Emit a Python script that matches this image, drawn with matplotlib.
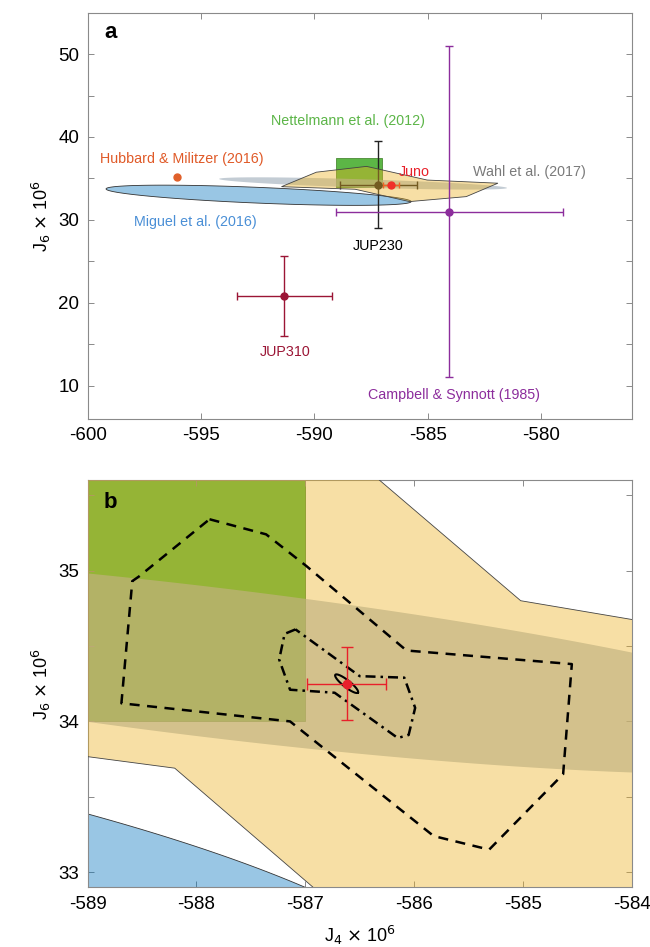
import numpy as np
import matplotlib.pyplot as plt
from matplotlib.patches import Polygon, Rectangle

plt.rcParams['font.family'] = ['Liberation Sans', 'DejaVu Sans']
plt.rcParams['axes.unicode_minus'] = False

# J4 x 1e6, J6 x 1e6 (value, error)
juno = (-586.62, 34.25, 0.36, 0.24)
jup230 = (-587.17, 34.25, 1.70, 5.27)
jup310 = (-591.32, 20.8, 2.1, 4.85)
campbell = (-584.04, 31.0, 5.0, 20.0)
hubbard = (-596.08, 35.14)

# Nettelmann et al. (2012) box
nett_j4 = [-589.05, -587.0]
nett_j6 = [34.0, 37.5]

# model envelope polygon
env_j4 = [-591.45, -589.91, -587.7, -585.02, -581.9, -583.3, -585.8, -588.2]
env_j6 = [34.0, 35.75, 36.45, 34.8, 34.42, 32.8, 32.2, 33.69]

# Wahl et al. (2017) ellipse: centre, half width, tilt, half height
wahl_c = (-587.85, 34.39)
wahl_a, wahl_tilt, wahl_h = 6.35, -0.546, 0.5

# Miguel et al. (2016) ellipse
mig_c = (-592.46, 32.965)
mig_a, mig_tilt, mig_h = 6.73, -0.765, 0.95

# contours (panel b)
dash_j4 = [-587.88, -587.36, -586.99, -586.07, -584.55, -584.63, -585.31, -585.82,
           -587.14, -588.69, -588.59, -588.53, -587.88]
dash_j6 = [35.34, 35.24, 35.03, 34.47, 34.38, 33.65, 33.15, 33.24,
           34.0, 34.12, 34.93, 34.96, 35.34]
dd_j4 = [-587.09, -587.19, -587.24, -587.14, -586.73, -586.15, -586.05, -585.99,
         -586.09, -586.50, -587.09]
dd_j6 = [34.61, 34.58, 34.41, 34.21, 34.19, 33.89, 33.91, 34.09,
         34.29, 34.30, 34.61]
# small solid ellipse around Juno
sm_c = (-586.62, 34.25)
sm_u = (0.104, -0.059)
sm_v = (-0.0198, -0.0183)

t = np.linspace(0, 2 * np.pi, 400)


def ell(c, a, tilt, h):
    x = c[0] + a * np.cos(t)
    y = c[1] + tilt * np.cos(t) + h * np.sin(t)
    return np.column_stack([x, y])


def draw_models(ax):
    ax.add_patch(Rectangle((nett_j4[0], nett_j6[0]), nett_j4[1] - nett_j4[0],
                           nett_j6[1] - nett_j6[0], facecolor='#5cb646',
                           edgecolor='#4a8a35', lw=0.6, zorder=1))
    ax.add_patch(Polygon(ell(mig_c, mig_a, mig_tilt, mig_h), closed=True,
                         facecolor=(0.0, 0.447, 0.741, 0.4), edgecolor='#333333',
                         lw=0.6, zorder=2))
    ax.add_patch(Polygon(ell(wahl_c, wahl_a, wahl_tilt, wahl_h), closed=True,
                         facecolor=(0.65, 0.70, 0.75, 0.67), edgecolor='none', zorder=2.5))
    ax.add_patch(Polygon(np.column_stack([env_j4, env_j6]), closed=True,
                         facecolor=(0.929, 0.694, 0.125, 0.4), edgecolor='#444444',
                         lw=0.6, zorder=3))


def style(ax):
    for s in ax.spines.values():
        s.set_color('#8a8a8a')
        s.set_linewidth(0.8)
    ax.tick_params(direction='in', top=True, right=True, length=4, width=0.7,
                   color='#8a8a8a', labelsize=13.5, pad=6)


fig = plt.figure(figsize=(6.5, 9.47), dpi=100)

# ---- panel a
ax1 = fig.add_axes([0.1349, 0.5579, 0.8369, 0.4287])
draw_models(ax1)

ax1.errorbar(campbell[0], campbell[1], xerr=campbell[2], yerr=campbell[3], fmt='o',
             color='#8c2d9c', ms=5, lw=1, capsize=3, zorder=5)
ax1.errorbar(jup310[0], jup310[1], xerr=jup310[2], yerr=jup310[3], fmt='o',
             color='#9b1535', ms=5, lw=1, capsize=3, zorder=5)
ax1.errorbar(jup230[0], jup230[1], xerr=jup230[2], yerr=jup230[3], fmt='o',
             color='#222222', ms=5, lw=1, capsize=3, zorder=2.8)
ax1.errorbar(juno[0], juno[1], xerr=juno[2], yerr=juno[3], fmt='o',
             color='#f0302a', ms=5, lw=1, capsize=2, zorder=2.9)
ax1.plot(hubbard[0], hubbard[1], 'o', color='#e0602a', ms=5, zorder=5)

fs = 10.3
ax1.text(-588.5, 41.9, 'Nettelmann et al. (2012)', color='#5cb548', fontsize=fs,
         ha='center', va='center')
ax1.text(-595.84, 37.35, 'Hubbard & Militzer (2016)', color='#e05a28', fontsize=fs,
         ha='center', va='center')
ax1.text(-585.57, 35.75, 'Juno', color='#e8202a', fontsize=fs, ha='center', va='center')
ax1.text(-580.5, 35.8, 'Wahl et al. (2017)', color='#7a7a7a', fontsize=fs,
         ha='center', va='center')
ax1.text(-595.27, 29.72, 'Miguel et al. (2016)', color='#4a8fd6', fontsize=fs,
         ha='center', va='center')
ax1.text(-587.2, 26.9, 'JUP230', color='black', fontsize=fs, ha='center', va='center')
ax1.text(-591.3, 14.1, 'JUP310', color='#9b1535', fontsize=fs, ha='center', va='center')
ax1.text(-583.85, 8.9, 'Campbell & Synnott (1985)', color='#8c2d9c', fontsize=fs,
         ha='center', va='center')

ax1.set_xlim(-600, -576)
ax1.set_ylim(6, 55)
ax1.set_xticks(np.arange(-600, -576, 5))
ax1.set_yticks(np.arange(10, 55, 5))
ax1.set_yticklabels([str(v) if v % 10 == 0 else '' for v in range(10, 55, 5)])
ax1.set_ylabel(r'J$_6$ $\times$ 10$^6$', fontsize=13)
ax1.text(0.030, 0.95, 'a', transform=ax1.transAxes, fontsize=16, fontweight='bold',
         ha='left', va='center')
style(ax1)

# ---- panel b
ax2 = fig.add_axes([0.1349, 0.0630, 0.8369, 0.4301])
draw_models(ax2)
ax2.plot(dash_j4, dash_j6, color='black', lw=1.8, ls=(0, (4, 3)), zorder=6)
ax2.plot(dd_j4, dd_j6, color='black', lw=1.8, ls=(0, (4, 2, 1, 2)), zorder=6)
sx = sm_c[0] + sm_u[0] * np.cos(t) + sm_v[0] * np.sin(t)
sy = sm_c[1] + sm_u[1] * np.cos(t) + sm_v[1] * np.sin(t)
ax2.plot(sx, sy, color='black', lw=1.5, zorder=6)
ax2.errorbar(juno[0], juno[1], xerr=juno[2], yerr=juno[3], fmt='o',
             color='#e8202a', ms=6, lw=1, capsize=4, zorder=7)

ax2.set_xlim(-589, -584)
ax2.set_ylim(32.9, 35.6)
ax2.set_xticks(np.arange(-589, -583))
ax2.set_yticks(np.arange(33, 35.6, 0.5))
ax2.set_yticklabels(['33', '', '34', '', '35', ''])
ax2.set_ylabel(r'J$_6$ $\times$ 10$^6$', fontsize=13)
ax2.set_xlabel(r'J$_4$ $\times$ 10$^6$', fontsize=13, labelpad=8)
ax2.text(0.030, 0.946, 'b', transform=ax2.transAxes, fontsize=16, fontweight='bold',
         ha='left', va='center')
style(ax2)

fig.savefig('out.png', dpi=100, facecolor='white')
